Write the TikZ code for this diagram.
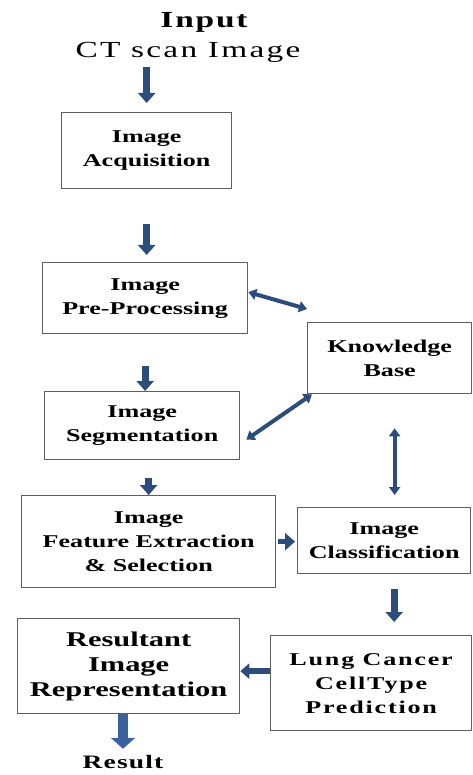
\documentclass[tikz,border=0pt]{standalone}
\usepackage{fontspec}
\setmainfont{Liberation Serif}[FakeStretch=1.45]
\usetikzlibrary{arrows.meta, positioning}
\definecolor{arrowblue}{RGB}{44,76,124}
\definecolor{resblue}{RGB}{58,98,158}
\definecolor{boxgray}{RGB}{95,95,95}
\tikzset{
  box/.style={
    rectangle, anchor=north west, inner sep=0pt,
    draw=boxgray, line width=1.3pt, fill=white,
    align=center, font=\fontsize{18}{24}\selectfont\bfseries
  },
  arrow/.style={
    -{Triangle[width=17pt,length=10pt]}, line width=7pt, draw=arrowblue
  },
  darrow/.style={
    {Triangle[width=11pt,length=8pt]}-{Triangle[width=11pt,length=8pt]},
    line width=4pt, draw=arrowblue
  }
}

\begin{document}
\begin{tikzpicture}[x=1pt, y=-1pt]
\useasboundingbox (0,0) rectangle (472,775);
% title and result
\node[font=\fontsize{23}{26}\selectfont\bfseries\addfontfeature{LetterSpace=8}] (inputA) at (204,22) {Input};
\node[font=\fontsize{23}{26}\selectfont\addfontfeature{LetterSpace=10}] (input) at (188,52) {CT scan Image};
\node[font=\fontsize{19}{22}\selectfont\bfseries\addfontfeature{LetterSpace=6}] (result) at (123,762) {Result};
% boxes
\node[box, minimum width=170pt, minimum height=76pt] (acq) at (61,112) {Image\\Acquisition};
\node[box, minimum width=205pt, minimum height=71pt] (pre) at (42,262) {Image\\Pre-Processing};
\node[box, minimum width=164pt, minimum height=71pt] (kb) at (307,322) {Knowledge\\Base};
\node[box, minimum width=195pt, minimum height=68pt] (seg) at (44,391) {Image\\Segmentation};
\node[box, minimum width=254pt, minimum height=92pt] (feat) at (21,495) {Image\\Feature Extraction\\\& Selection};
\node[box, minimum width=173pt, minimum height=66pt] (cls) at (297,507) {Image\\Classification};
\node[box, minimum width=201pt, minimum height=95pt, font=\fontsize{18}{24}\selectfont\bfseries\addfontfeature{LetterSpace=10}] (lung) at (270,635) {Lung Cancer\\CellType\\Prediction};
\node[box, minimum width=222pt, minimum height=95pt, font=\fontsize{21}{25}\selectfont\bfseries] (res) at (17,618) {Resultant\\Image\\Representation};
% main flow
\draw[arrow, shorten <=1pt, shorten >=9pt] (input.south -| acq.north) -- (acq.north);
\draw[arrow, shorten <=35pt, shorten >=7pt] (acq.south) -- (acq.south |- pre.north);
\draw[arrow, shorten <=32pt] (pre.south) -- (pre.south |- seg.north);
\draw[arrow, shorten <=18pt] (seg.south -| feat.north) -- (feat.north);
\draw[arrow, line width=5pt, shorten <=2pt, shorten >=2pt] (feat.east) -- (feat.east -| cls.west);
\draw[arrow, shorten <=15pt, shorten >=13pt] ([xshift=10pt]cls.south) -- ([xshift=10pt]cls.south |- lung.north);
\draw[arrow, line width=6pt, -{Triangle[width=15pt,length=9pt]}] ([yshift=12pt]lung.west) -- ([yshift=12pt]lung.west -| res.east);
\draw[arrow, draw=resblue, line width=10pt, -{Triangle[width=24pt,length=11pt]}, shorten >=3pt] (res.south -| result.north) -- (result.north);
% knowledge base links
\draw[darrow] ([yshift=6pt]pre.east) -- ([yshift=13pt]kb.north west);
\draw[darrow] ([xshift=6pt,yshift=-14pt]seg.east) -- ([xshift=5pt]kb.south west);
\draw[darrow, shorten <=34pt, shorten >=12pt] ([xshift=5pt]kb.south) -- ([xshift=5pt]kb.south |- cls.north);
\end{tikzpicture}
\end{document}
